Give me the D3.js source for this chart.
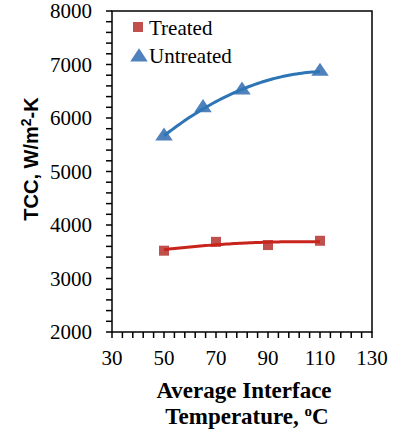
<!DOCTYPE html>
<html><head><meta charset="utf-8">
<script src="https://cdn.jsdelivr.net/npm/d3@7"></script>
<style>body{margin:0;background:#fff}svg{display:block}
.serif{font-family:"Liberation Serif","Times New Roman",serif}
.sans{font-family:"Liberation Sans",Arial,sans-serif}
</style>
</head><body>
<script>
const treatedX = [50, 70, 90, 110];
const treatedY = [3520, 3685, 3625, 3705];
const untreatedX = [50, 65, 80, 110];
const untreatedY = [5660, 6190, 6520, 6870];
const xTicks = [30, 50, 70, 90, 110, 130];
const yTicks = [2000, 3000, 4000, 5000, 6000, 7000, 8000];

const W = 394, H = 434;
const svg = d3.select("body").append("svg").attr("width", W).attr("height", H);
const x = d3.scaleLinear().domain([30, 130]).range([112, 372]);
const y = d3.scaleLinear().domain([2000, 8000]).range([332, 11]);

// quadratic least-squares trendline
function polyFit(xs, ys) {
  const n = xs.length;
  let s = [0,0,0,0,0], t = [0,0,0];
  for (let i = 0; i < n; i++) {
    for (let k = 0; k < 5; k++) s[k] += Math.pow(xs[i], k);
    for (let k = 0; k < 3; k++) t[k] += ys[i] * Math.pow(xs[i], k);
  }
  const A = [[s[0],s[1],s[2],t[0]],[s[1],s[2],s[3],t[1]],[s[2],s[3],s[4],t[2]]];
  for (let i = 0; i < 3; i++) {
    for (let j = i+1; j < 3; j++) {
      const f = A[j][i]/A[i][i];
      for (let k = i; k < 4; k++) A[j][k] -= f*A[i][k];
    }
  }
  const c = [0,0,0];
  for (let i = 2; i >= 0; i--) {
    let v = A[i][3];
    for (let k = i+1; k < 3; k++) v -= A[i][k]*c[k];
    c[i] = v/A[i][i];
  }
  return xv => c[0] + c[1]*xv + c[2]*xv*xv;
}

// frame
svg.append("rect").attr("x", x(30)).attr("y", y(8000)).attr("width", x(130)-x(30)).attr("height", y(2000)-y(8000))
  .attr("fill", "none").attr("stroke", "#000").attr("stroke-width", 1.5);

// y ticks
const yMinor = d3.range(2000, 8001, 200);
svg.append("g").selectAll("line").data(yMinor).join("line")
  .attr("x1", x(30) - 6).attr("x2", x(30)).attr("y1", d => y(d)).attr("y2", d => y(d))
  .attr("stroke", "#000").attr("stroke-width", 1.5);
svg.append("g").selectAll("text").data(yTicks).join("text")
  .attr("class", "serif")
  .attr("x", 92).attr("y", d => y(d) + 7).attr("text-anchor", "end")
  .attr("font-size", 21)
  .text(d => d);

// x ticks
const xMinor = d3.range(30, 130.1, 4);
svg.append("g").selectAll("line").data(xMinor).join("line")
  .attr("x1", d => x(d)).attr("x2", d => x(d)).attr("y1", y(2000)).attr("y2", y(2000) + 6)
  .attr("stroke", "#000").attr("stroke-width", 1.5);
svg.append("g").selectAll("text").data(xTicks).join("text")
  .attr("class", "serif")
  .attr("x", d => x(d)).attr("y", 365).attr("text-anchor", "middle")
  .attr("font-size", 21)
  .text(d => d);

// trendlines
const line = d3.line().x(d => x(d[0])).y(d => y(d[1])).curve(d3.curveLinear);
const fu = polyFit(untreatedX, untreatedY);
const ft = polyFit(treatedX, treatedY);
const uPts = d3.range(50, 110.01, 1).map(v => [v, fu(v)]);
const tPts = d3.range(50, 110.01, 1).map(v => [v, ft(v)]);

// markers
const sq = 10;
svg.append("g").selectAll("rect").data(treatedX.map((v,i)=>[v,treatedY[i]])).join("rect")
  .attr("x", d => x(d[0]) - sq/2).attr("y", d => y(d[1]) - sq/2).attr("width", sq).attr("height", sq)
  .attr("fill", "#C0504D");
const tri = d3.symbol().type(d3.symbolTriangle).size(100);
svg.append("g").selectAll("path").data(untreatedX.map((v,i)=>[v,untreatedY[i]])).join("path")
  .attr("d", tri).attr("transform", d => `translate(${x(d[0])},${y(d[1])}) scale(1.15,1)`)
  .attr("fill", "#4F81BD");

svg.append("path").datum(tPts).attr("d", line).attr("fill", "none").attr("stroke", "#C8241C").attr("stroke-width", 3);
svg.append("path").datum(uPts).attr("d", line).attr("fill", "none").attr("stroke", "#2E75B6").attr("stroke-width", 3);

// legend
svg.append("rect").attr("x", 133).attr("y", 22).attr("width", 10).attr("height", 10).attr("fill", "#C0504D");
svg.append("path").attr("d", tri).attr("transform", "translate(139,57) scale(1.15,1)").attr("fill", "#4F81BD");
svg.append("text").attr("class", "serif").attr("x", 149).attr("y", 35).attr("font-size", 21).text("Treated");
svg.append("text").attr("class", "serif").attr("x", 149).attr("y", 63).attr("font-size", 21).text("Untreated");

// y axis title
const yt = svg.append("text").attr("class", "sans").attr("transform", "translate(38,159) rotate(-90)").attr("text-anchor", "middle")
  .attr("font-weight", "bold").attr("font-size", 20);
yt.append("tspan").text("TCC, W/m");
yt.append("tspan").attr("dy", -7).attr("font-size", 14).text("2");
yt.append("tspan").attr("dy", 7).text("-K");

// x axis title
svg.append("text").attr("class", "serif").attr("text-anchor", "middle").attr("x", 244).attr("y", 398)
  .attr("font-weight", "bold").attr("font-size", 23).text("Average Interface");
const xt2 = svg.append("text").attr("class", "serif").attr("text-anchor", "middle").attr("x", 247).attr("y", 424)
  .attr("font-weight", "bold").attr("font-size", 23);
xt2.append("tspan").text("Temperature, ");
xt2.append("tspan").attr("dy", -8).attr("font-size", 15).text("o");
xt2.append("tspan").attr("dy", 8).text("C");
</script>
</body></html>
